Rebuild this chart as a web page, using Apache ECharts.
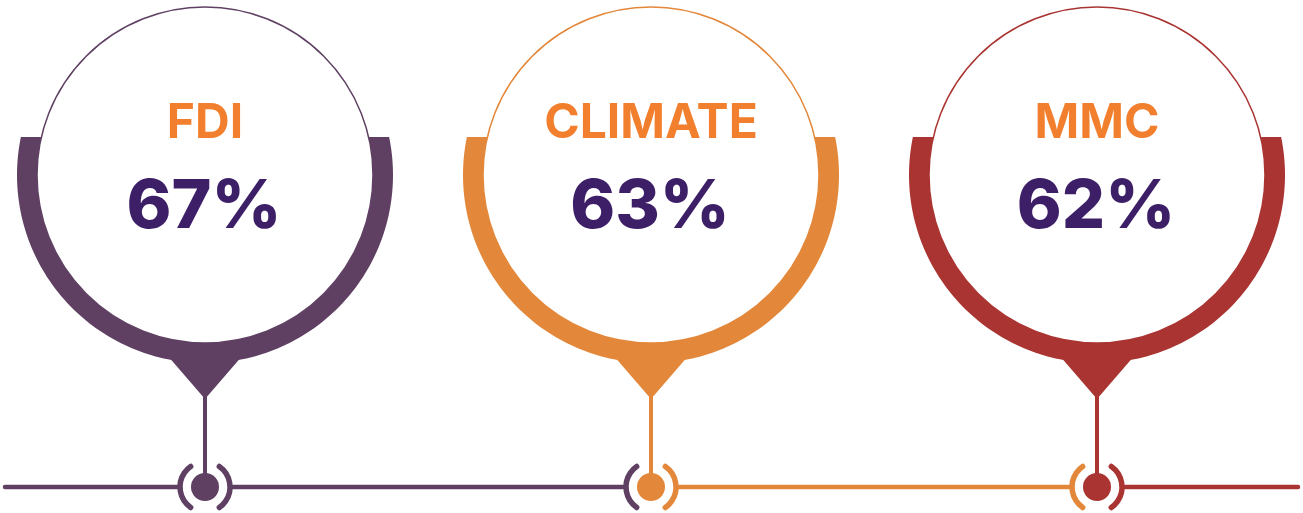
<!DOCTYPE html>
<html>
<head>
<meta charset="utf-8">
<style>
html,body{margin:0;padding:0;background:#ffffff;}
#chart{width:1303px;height:513px;}
</style>
<script src="https://cdn.jsdelivr.net/npm/echarts@6/dist/echarts.min.js"></script>
</head>
<body>
<div id="chart"></div>
<script>
// ---- data ----
const categories = ['FDI', 'CLIMATE', 'MMC'];
const values = [67, 63, 62];
// ---- styles ----
const pinColors = ['#5F4063', '#E3873A', '#A93431'];
const labelColor = '#F27F2E';
const valueColor = '#3D1F68';

const chart = echarts.init(document.getElementById('chart'), null, {renderer: 'canvas'});

function arcPoints(cx, cy, r, a0, a1, n) {
  const pts = [];
  for (let k = 0; k <= n; k++) {
    const a = a0 + (a1 - a0) * k / n;
    pts.push([cx + r * Math.cos(a), cy + r * Math.sin(a)]);
  }
  return pts;
}

function renderItem(params, api) {
  const i = params.dataIndex;
  const base = api.coord([api.value(0), 0]);
  const cx = base[0], by = base[1];
  const cy = by - 312;
  const rIn = 168, rOut = 188, cut = 38;
  const color = pinColors[i];
  const children = [];

  // horizontal line segments
  const lineW = 4.5, brR = 25, gap = 27;
  if (i === 0) {
    children.push({type: 'line', shape: {x1: 5, y1: by, x2: cx - gap, y2: by},
      style: {stroke: color, lineWidth: lineW, lineCap: 'round'}});
  }
  let nextX;
  if (i < categories.length - 1) {
    nextX = api.coord([i + 1, 0])[0] - gap;
  } else {
    nextX = api.getWidth() - 5;
  }
  children.push({type: 'line', shape: {x1: cx + gap, y1: by, x2: nextX, y2: by},
    style: {stroke: color, lineWidth: lineW, lineCap: 'round'}});

  // brackets
  const leftColor = i === 0 ? color : pinColors[i - 1];
  const span = 55 * Math.PI / 180;
  children.push({type: 'arc', shape: {cx: cx, cy: by, r: brR, startAngle: Math.PI - span, endAngle: Math.PI + span, clockwise: true},
    style: {stroke: leftColor, lineWidth: 5.5, lineCap: 'round', fill: null}});
  children.push({type: 'arc', shape: {cx: cx, cy: by, r: brR, startAngle: -span, endAngle: span, clockwise: true},
    style: {stroke: color, lineWidth: 5.5, lineCap: 'round', fill: null}});

  // stem
  children.push({type: 'rect', shape: {x: cx - 2, y: cy + 215, width: 4, height: by - cy - 215},
    style: {fill: color}});
  // dot
  children.push({type: 'circle', shape: {cx: cx, cy: by, r: 14}, style: {fill: color}});

  // pointer triangle
  children.push({type: 'polygon', shape: {points: [[cx - 38, cy + 180], [cx + 38, cy + 180], [cx, cy + 224]]},
    style: {fill: color}});

  // thick band (bottom part of ring, cut horizontally)
  const ao = Math.asin(cut / rOut), ai = Math.asin(cut / rIn);
  const outer = arcPoints(cx, cy, rOut, Math.PI + ao, -ao, 160);
  const inner = arcPoints(cx, cy, rIn, -ai, Math.PI + ai, 160);
  children.push({type: 'polygon', shape: {points: outer.concat(inner)}, style: {fill: color}});

  // thin outline circle
  children.push({type: 'circle', shape: {cx: cx, cy: cy, r: rIn}, style: {fill: null, stroke: color, lineWidth: 1.5}});

  // texts
  children.push({type: 'text', style: {x: cx, y: cy - 51, text: categories[i], fill: labelColor,
    font: 'bold 48px Inter', align: 'center', verticalAlign: 'middle'}});
  children.push({type: 'text', style: {x: cx - 1, y: cy + 33, text: api.value(1) + '%', fill: valueColor,
    font: '800 68px Inter', align: 'center', verticalAlign: 'middle'}});

  return {type: 'group', children: children};
}

chart.setOption({
  animation: false,
  grid: {left: 205, right: 206, top: 20, bottom: 26},
  xAxis: {type: 'category', data: categories, boundaryGap: false, show: false},
  yAxis: {type: 'value', min: 0, max: 1, show: false},
  series: [{
    type: 'custom',
    renderItem: renderItem,
    clip: false,
    encode: {x: 0},
    data: categories.map((c, i) => [i, values[i]])
  }]
});
</script>
</body>
</html>
